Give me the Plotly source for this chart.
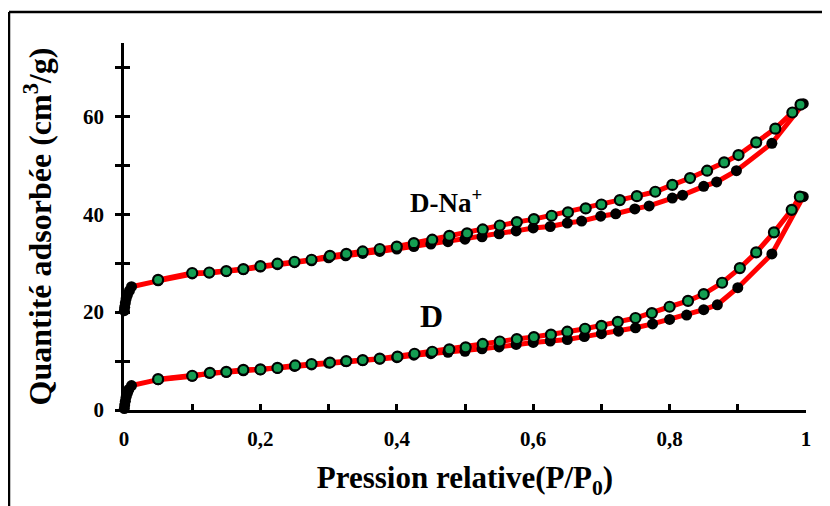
import plotly.graph_objects as go

# ---------------- data ----------------
# D-Na+ : adsorption (black) and desorption (green)
dna_ads_p = [0.0005, 0.001, 0.002, 0.003, 0.005, 0.008, 0.011, 0.05, 0.1, 0.125, 0.15, 0.175, 0.2,
             0.225, 0.25, 0.275, 0.3, 0.325, 0.35, 0.375, 0.4, 0.425, 0.45, 0.475, 0.5, 0.525,
             0.55, 0.575, 0.6, 0.625, 0.65, 0.671, 0.699, 0.721, 0.749, 0.770, 0.804, 0.819,
             0.85, 0.869, 0.898, 0.95, 0.996]
dna_ads_v = [20.3, 21.0, 21.9, 22.7, 23.5, 24.4, 25.2, 26.4, 27.8, 28.0, 28.3, 28.7, 29.2,
             29.7, 30.1, 30.5, 31.1, 31.5, 32.0, 32.4, 32.9, 33.4, 33.9, 34.4, 34.9, 35.4,
             36.0, 36.6, 37.2, 37.5, 38.2, 38.6, 39.6, 40.1, 41.1, 41.7, 43.3, 43.9,
             45.7, 46.6, 48.9, 54.5, 62.6]
dna_des_p = [0.992, 0.980, 0.955, 0.927, 0.901, 0.880, 0.855, 0.830, 0.804, 0.779, 0.752, 0.727,
             0.700, 0.677, 0.651, 0.627, 0.601, 0.576, 0.551, 0.526, 0.503, 0.477, 0.452, 0.425,
             0.400, 0.375, 0.350, 0.326, 0.302, 0.275, 0.25, 0.225, 0.2, 0.175, 0.15, 0.125,
             0.1, 0.05]
dna_des_v = [62.4, 60.8, 57.5, 54.7, 52.1, 50.6, 48.9, 47.4, 46.0, 44.6, 43.7, 42.9,
             42.0, 41.2, 40.4, 39.7, 39.0, 38.4, 37.7, 36.9, 36.1, 35.6, 34.8, 34.1,
             33.4, 32.9, 32.4, 31.9, 31.5, 30.7, 30.3, 29.9, 29.4, 28.8, 28.4, 28.1,
             28.0, 26.6]

# D : adsorption (black) and desorption (green)
d_ads_p = [0.0005, 0.001, 0.002, 0.003, 0.005, 0.007, 0.011, 0.05, 0.1, 0.125, 0.15, 0.175, 0.2,
           0.225, 0.25, 0.275, 0.3, 0.325, 0.35, 0.375, 0.4, 0.425, 0.45, 0.475, 0.5, 0.525,
           0.55, 0.575, 0.6, 0.625, 0.65, 0.675, 0.7, 0.725, 0.75, 0.775, 0.8, 0.825, 0.85,
           0.87, 0.9, 0.95, 0.996]
d_ads_v = [0.3, 1.0, 1.8, 2.6, 3.4, 4.2, 5.0, 6.2, 6.9, 7.5, 7.7, 8.0, 8.2,
           8.5, 8.9, 9.2, 9.6, 9.9, 10.1, 10.4, 10.7, 11.2, 11.5, 11.8, 12.0, 12.5,
           12.9, 13.4, 13.8, 14.1, 14.4, 15.0, 15.6, 16.1, 16.8, 17.6, 18.5, 19.4, 20.5,
           21.5, 25.0, 31.9, 43.6]
d_des_p = [0.991, 0.979, 0.953, 0.927, 0.903, 0.877, 0.85, 0.827, 0.8, 0.774, 0.75, 0.724,
           0.7, 0.676, 0.65, 0.626, 0.601, 0.576, 0.551, 0.526, 0.501, 0.477, 0.452, 0.426,
           0.401, 0.375, 0.35, 0.326, 0.302, 0.275, 0.251, 0.225, 0.2, 0.175, 0.15, 0.126,
           0.1, 0.05]
d_des_v = [43.6, 40.9, 36.3, 32.2, 29.0, 26.0, 23.7, 22.3, 21.1, 19.8, 18.8, 18.0,
           17.2, 16.6, 16.0, 15.4, 14.9, 14.5, 14.0, 13.5, 12.8, 12.4, 11.9, 11.5,
           10.9, 10.5, 10.2, 10.0, 9.7, 9.4, 9.1, 8.6, 8.3, 8.2, 7.8, 7.6,
           7.0, 6.3]

x_tickvals = [0, 0.1, 0.2, 0.3, 0.4, 0.5, 0.6, 0.7, 0.8, 0.9, 1.0]
x_ticktext = ["0", "", "0,2", "", "0,4", "", "0,6", "", "0,8", "", "1"]
y_tickvals = [0, 10, 20, 30, 40, 50, 60, 70]
y_ticktext = ["0", "", "20", "", "40", "", "60", ""]

label_dna = "D-Na<sup>+</sup>"
label_d = "D"

# ---------------- styles ----------------
FONT = "Liberation Serif"
RED = "#ff0000"
GREEN = "#149e52"

fig = go.Figure()

for px, pv in [(dna_ads_p, dna_ads_v), (dna_des_p, dna_des_v), (d_ads_p, d_ads_v), (d_des_p, d_des_v)]:
    fig.add_trace(go.Scatter(x=px, y=pv, mode="lines", line=dict(color=RED, width=5),
                             showlegend=False, hoverinfo="skip", cliponaxis=False))

for px, pv in [(dna_ads_p, dna_ads_v), (d_ads_p, d_ads_v)]:
    fig.add_trace(go.Scatter(x=px, y=pv, mode="markers",
                             marker=dict(color="black", size=11, line=dict(width=0)),
                             showlegend=False, cliponaxis=False))

for px, pv in [(dna_des_p, dna_des_v), (d_des_p, d_des_v)]:
    fig.add_trace(go.Scatter(x=px, y=pv, mode="markers",
                             marker=dict(color=GREEN, size=10, line=dict(color="black", width=2.2)),
                             showlegend=False, cliponaxis=False))

# invisible trace so the overlay axis (inner half of the crossing y ticks) is drawn
fig.add_trace(go.Scatter(x=[None], y=[None], yaxis="y2", showlegend=False, hoverinfo="skip"))

fig.add_annotation(x=0.416, y=42.8, text=label_dna, showarrow=False, xanchor="left",
                   font=dict(family=FONT, size=27, color="black", weight="bold"))
fig.add_annotation(x=0.431, y=19.3, text=label_d, showarrow=False, xanchor="left",
                   font=dict(family=FONT, size=32, color="black", weight="bold"))

# the page body adds an 8px margin, so the figure sits at (8, 8)
W_FIG, H_FIG = 822, 498
L, T, W, H = 116, 35, 682, 367
fx = (1 - L) / W
fy = (H + T - 4) / H
fig.add_shape(type="line", xref="paper", yref="paper", x0=fx, x1=fx, y0=-0.5, y1=fy,
              line=dict(color="black", width=2.5))
fig.add_shape(type="line", xref="paper", yref="paper", x0=fx, x1=1.2, y0=fy, y1=fy,
              line=dict(color="black", width=2.5))

fig.update_layout(
    width=W_FIG, height=H_FIG,
    margin=dict(l=L, r=W_FIG - L - W, t=T, b=H_FIG - T - H),
    paper_bgcolor="white", plot_bgcolor="white",
    showlegend=False,
    xaxis=dict(range=[0, 1], tickvals=x_tickvals, ticktext=x_ticktext,
               showline=True, linecolor="black", linewidth=2.5, showgrid=False, zeroline=False,
               ticks="inside", ticklen=6, tickwidth=2.5, tickcolor="black",
               ticklabelstandoff=8,
               tickfont=dict(family=FONT, size=21, color="black", weight="bold"),
               title=dict(text="Pression relative(P/P<sub>0</sub>)", standoff=17,
                          font=dict(family=FONT, size=31, color="black", weight="bold"))),
    yaxis=dict(range=[0, 75], tickvals=y_tickvals, ticktext=y_ticktext,
               showline=True, linecolor="black", linewidth=2.5, showgrid=False, zeroline=False,
               ticks="outside", ticklen=6, tickwidth=2.5, tickcolor="black",
               ticklabelstandoff=7,
               tickfont=dict(family=FONT, size=21, color="black", weight="bold"),
               title=dict(text="Quantité adsorbée (cm<sup>3</sup>/g)", standoff=22,
                          font=dict(family=FONT, size=32, color="black", weight="bold"))),
    yaxis2=dict(range=[0, 75], overlaying="y", side="left", anchor="x", tickvals=y_tickvals,
                showticklabels=False, showline=False, showgrid=False, zeroline=False,
                ticks="inside", ticklen=6, tickwidth=2.5, tickcolor="black"),
)

fig.write_html("out.html")
